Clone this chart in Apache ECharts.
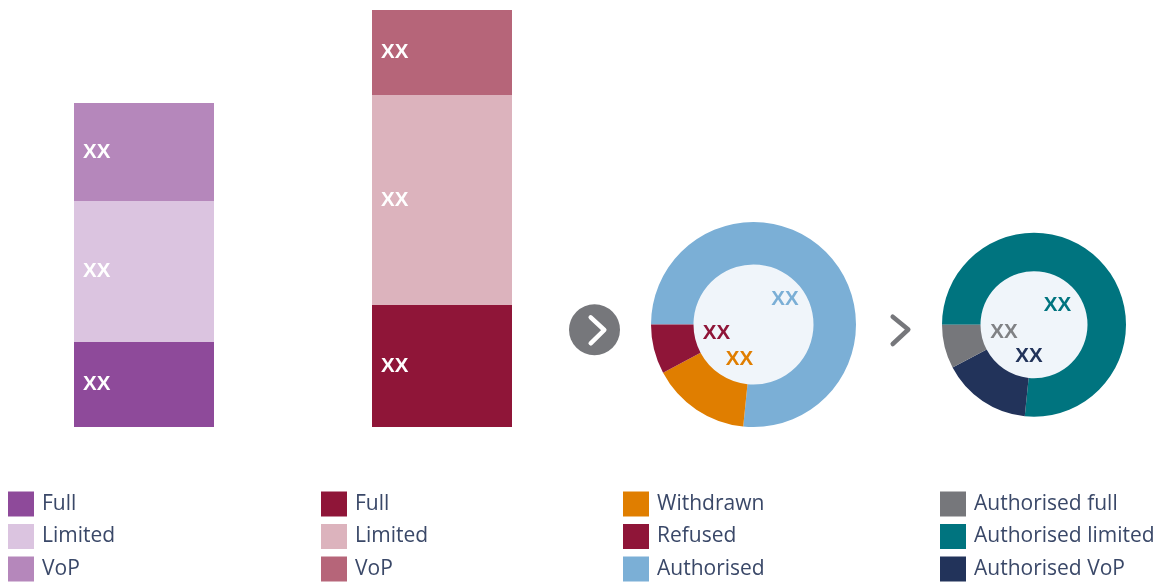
<!DOCTYPE html>
<html>
<head>
<meta charset="utf-8">
<script src="https://cdn.jsdelivr.net/npm/echarts@6/dist/echarts.min.js"></script>
<style>
  html, body { margin: 0; padding: 0; background: #ffffff; }
  #chart { width: 1163px; height: 583px; }
</style>
</head>
<body>
<div id="chart"></div>
<script>
// Stacked columns: application types (bottom to top)
const applicationTypes = ['Full', 'Limited', 'VoP'];
const receivedValues = [85, 141, 98];
const determinedValues = [122, 210, 85];

// Outcome donut (clockwise from 9 o'clock)
const outcomeNames = ['Authorised', 'Withdrawn', 'Refused'];
const outcomeValues = [76.6, 15.6, 7.8];
const outcomeLegendOrder = ['Withdrawn', 'Refused', 'Authorised'];

// Authorisation type donut (clockwise from 9 o'clock)
const authorisedNames = ['Authorised limited', 'Authorised VoP', 'Authorised full'];
const authorisedValues = [76.6, 15.7, 7.7];
const authorisedLegendOrder = ['Authorised full', 'Authorised limited', 'Authorised VoP'];

const placeholder = 'XX';

const receivedColors = ['#8E4A9A', '#DBC4E0', '#B587BB'];
const determinedColors = ['#8F1538', '#DCB3BD', '#B66579'];
const outcomeColors = { 'Authorised': '#7BAFD6', 'Withdrawn': '#E07E00', 'Refused': '#8F1538' };
const authorisedColors = { 'Authorised limited': '#00747F', 'Authorised VoP': '#22335A', 'Authorised full': '#76777B' };

const TEXT = '#3A4868';
const LABEL_FONT = '"Liberation Sans", Arial, sans-serif';
const LEGEND_FONT = '"Open Sans", sans-serif';
const AXIS_MAX = 417;

const chart = echarts.init(document.getElementById('chart'), null, { renderer: 'canvas' });

function stackSeries(prefix, values, colors, gridIndex) {
  return applicationTypes.map((type, i) => ({
    name: prefix + type,
    type: 'bar',
    xAxisIndex: gridIndex,
    yAxisIndex: gridIndex,
    stack: 'col' + gridIndex,
    barWidth: '100%',
    silent: true,
    itemStyle: { color: colors[i] },
    label: {
      show: true,
      position: 'insideLeft',
      distance: 9,
      formatter: placeholder,
      color: '#ffffff',
      fontFamily: LABEL_FONT,
      fontWeight: 'bold',
      fontSize: 20.5
    },
    data: [values[i]]
  }));
}

function legendBlock(left, names, formatter) {
  return {
    orient: 'vertical',
    left: left,
    top: 491.5,
    padding: 0,
    itemWidth: 26,
    itemHeight: 25,
    itemGap: 7.5,
    icon: 'rect',
    selectedMode: false,
    data: names,
    formatter: formatter,
    textStyle: {
      fontFamily: LEGEND_FONT,
      fontSize: 21,
      lineHeight: 21,
      color: TEXT,
      padding: [4, 0, 0, 3]
    }
  };
}

function donut(name, center, radius, names, values, colors) {
  return {
    name: name,
    type: 'pie',
    center: center,
    radius: radius,
    startAngle: 180,
    clockwise: true,
    silent: true,
    label: { show: false },
    labelLine: { show: false },
    emphasis: { disabled: true },
    z: 3,
    data: names.map((n, i) => ({ name: n, value: values[i], itemStyle: { color: colors[n] } }))
  };
}

const donutA = { c: [753.5, 324.5], r: [60, 102.5] };
const donutB = { c: [1034, 324.7], r: [53.5, 92] };

function centreText(cx, cy, dx, dy, color) {
  return {
    type: 'text',
    z: 10,
    style: {
      x: cx + dx, y: cy + dy,
      text: placeholder,
      fill: color,
      font: 'bold 20.5px ' + LABEL_FONT,
      align: 'center',
      verticalAlign: 'middle'
    }
  };
}

const option = {
  animation: false,
  backgroundColor: '#ffffff',
  grid: [
    { left: 74, width: 140, top: 10, bottom: 156 },
    { left: 372, width: 140, top: 10, bottom: 156 }
  ],
  xAxis: [
    { gridIndex: 0, type: 'category', data: [''], show: false },
    { gridIndex: 1, type: 'category', data: [''], show: false }
  ],
  yAxis: [
    { gridIndex: 0, type: 'value', min: 0, max: AXIS_MAX, show: false },
    { gridIndex: 1, type: 'value', min: 0, max: AXIS_MAX, show: false }
  ],
  legend: [
    legendBlock(8, applicationTypes.map(t => 'a:' + t), n => n.slice(2)),
    legendBlock(321, applicationTypes.map(t => 'b:' + t), n => n.slice(2)),
    legendBlock(623, outcomeLegendOrder),
    legendBlock(940, authorisedLegendOrder)
  ],
  series: [
    ...stackSeries('a:', receivedValues, receivedColors, 0),
    ...stackSeries('b:', determinedValues, determinedColors, 1),
    donut('outcome', donutA.c, donutA.r, outcomeNames, outcomeValues, outcomeColors),
    donut('authorised', donutB.c, donutB.r, authorisedNames, authorisedValues, authorisedColors)
  ],
  graphic: [
    // pale centres of the donuts
    { type: 'circle', z: 0, shape: { cx: donutA.c[0], cy: donutA.c[1], r: donutA.r[0] + 0.5 }, style: { fill: '#F0F5FA' } },
    { type: 'circle', z: 0, shape: { cx: donutB.c[0], cy: donutB.c[1], r: donutB.r[0] + 0.5 }, style: { fill: '#F0F5FA' } },
    // round arrow button
    { type: 'circle', shape: { cx: 594.5, cy: 329.7, r: 25.5 }, style: { fill: '#76777B' } },
    { type: 'polyline', shape: { points: [[590.7, 317.3], [604.3, 330], [590.7, 343.3]] },
      style: { stroke: '#ffffff', lineWidth: 4.5, lineCap: 'round', lineJoin: 'round', fill: null } },
    // plain chevron
    { type: 'polyline', shape: { points: [[892.7, 316.7], [908.3, 329.5], [892.7, 344]] },
      style: { stroke: '#76777B', lineWidth: 4.5, lineCap: 'round', lineJoin: 'round', fill: null } },
    // donut centre labels
    centreText(donutA.c[0], donutA.c[1], 31.5, -25, outcomeColors['Authorised']),
    centreText(donutA.c[0], donutA.c[1], -37, 9, outcomeColors['Refused']),
    centreText(donutA.c[0], donutA.c[1], -14, 35, outcomeColors['Withdrawn']),
    centreText(donutB.c[0], donutB.c[1], 23.5, -19, authorisedColors['Authorised limited']),
    centreText(donutB.c[0], donutB.c[1], -30, 8, '#808285'),
    centreText(donutB.c[0], donutB.c[1], -5, 32, authorisedColors['Authorised VoP'])
  ]
};

chart.setOption(option);
</script>
</body>
</html>
